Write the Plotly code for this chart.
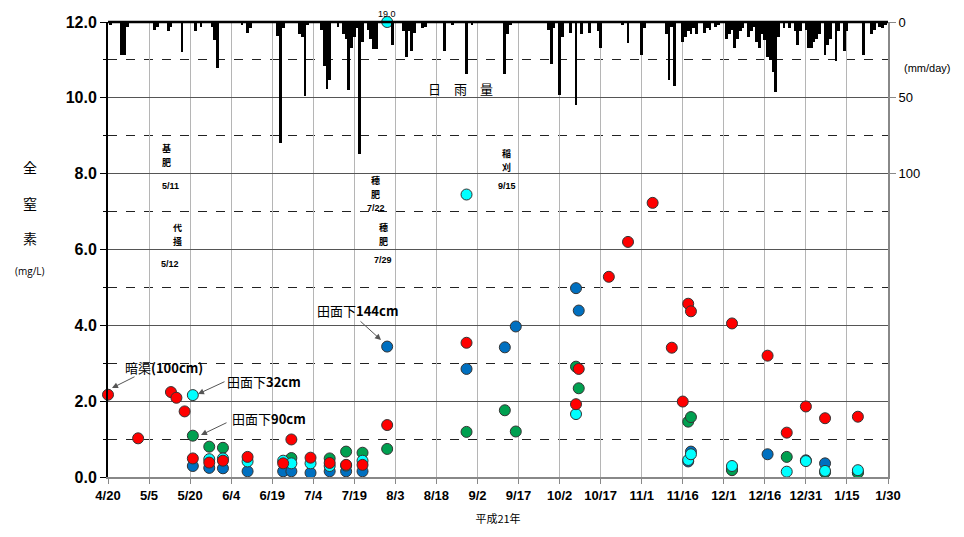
import datetime as dt
import plotly.graph_objects as go

# ---------------- data ----------------
start = dt.date(2009, 4, 20)
tick_dates = [start + dt.timedelta(days=15 * k) for k in range(20)]
tick_labels = [f"{d.month}/{d.day}" for d in tick_dates]

# 暗渠(100cm)
drain_dates = ["2009-04-20", "2009-05-01", "2009-05-13", "2009-05-15", "2009-05-18", "2009-05-21",
               "2009-05-27", "2009-06-01", "2009-06-10", "2009-06-23", "2009-06-26", "2009-07-03",
               "2009-07-10", "2009-07-16", "2009-07-22", "2009-07-31", "2009-08-29", "2009-10-08",
               "2009-10-09", "2009-10-20", "2009-10-27", "2009-11-05", "2009-11-12", "2009-11-16",
               "2009-11-18", "2009-11-19", "2009-12-04", "2009-12-17", "2009-12-24", "2009-12-31",
               "2010-01-07", "2010-01-19"]
drain_vals = [2.17, 1.02, 2.24, 2.09, 1.73, 0.49, 0.38, 0.43, 0.53, 0.36, 0.99, 0.51, 0.37, 0.32,
              0.32, 1.37, 3.54, 1.92, 2.85, 5.28, 6.20, 7.23, 3.41, 1.99, 4.57, 4.37, 4.05, 3.20,
              1.17, 1.86, 1.55, 1.59]

# 田面下32cm
d32_dates = ["2009-05-21", "2009-05-27", "2009-06-01", "2009-06-10", "2009-06-23", "2009-06-26",
             "2009-07-03", "2009-07-10", "2009-07-16", "2009-07-22", "2009-07-31", "2009-08-29",
             "2009-10-08", "2009-11-18", "2009-11-19", "2009-12-04", "2009-12-24", "2009-12-31",
             "2010-01-07", "2010-01-19"]
d32_vals = [2.16, 0.47, 0.49, 0.41, 0.43, 0.36, 0.36, 0.29, 0.30, 0.43, 19.0, 7.45, 1.66, 0.45,
            0.60, 0.29, 0.14, 0.42, 0.16, 0.18]

# 田面下90cm
d90_dates = ["2009-05-21", "2009-05-27", "2009-06-01", "2009-06-26", "2009-07-10", "2009-07-16",
             "2009-07-22", "2009-07-31", "2009-08-29", "2009-09-12", "2009-09-16", "2009-10-08",
             "2009-10-09", "2009-11-18", "2009-11-19", "2009-12-04", "2009-12-24", "2010-01-07",
             "2010-01-19"]
d90_vals = [1.09, 0.80, 0.77, 0.50, 0.49, 0.67, 0.64, 0.74, 1.19, 1.76, 1.20, 2.91, 2.34, 1.46,
            1.58, 0.18, 0.53, 0.12, 0.11]

# 田面下144cm
d144_dates = ["2009-05-21", "2009-05-27", "2009-06-01", "2009-06-10", "2009-06-23", "2009-06-26",
              "2009-07-03", "2009-07-10", "2009-07-16", "2009-07-22", "2009-07-31", "2009-08-29",
              "2009-09-12", "2009-09-16", "2009-10-08", "2009-10-09", "2009-11-18", "2009-11-19",
              "2009-12-04", "2009-12-17", "2009-12-31", "2010-01-07", "2010-01-19"]
d144_vals = [0.29, 0.24, 0.23, 0.15, 0.15, 0.15, 0.11, 0.15, 0.15, 0.15, 3.44, 2.85, 3.42, 3.97,
             4.98, 4.39, 0.41, 0.67, 0.20, 0.60, 0.44, 0.36, 0.12]

# 日雨量 (days since 2009-04-20, mm/day)
rain_day = [1, 5, 6, 7, 17, 18, 22, 23, 27, 32, 34, 38, 39, 40, 49, 51, 52, 62, 63, 64, 70, 71, 72,
            73, 78, 79, 80, 81, 84, 86, 87, 88, 89, 90, 91, 92, 93, 95, 96, 97, 98, 104, 108, 109,
            110, 111, 112, 115, 116, 123, 126, 131, 133, 145, 146, 147, 161, 162, 163, 165, 166,
            169, 171, 173, 176, 179, 180, 188, 190, 195, 196, 204, 205, 206, 207, 210, 211, 212,
            213, 214, 215, 218, 219, 220, 222, 223, 226, 227, 228, 229, 230, 231, 232, 234, 235,
            236, 237, 238, 239, 240, 241, 242, 243, 244, 245, 247, 249, 251, 252, 253, 255, 256,
            257, 258, 259, 260, 262, 263, 264, 266, 267, 269, 270, 276, 279, 280, 282, 283, 284]
rain_mm = [2, 22, 22, 3, 5, 3, 6, 3, 20, 6, 3, 3, 12, 30, 2, 7, 4, 9, 80, 4, 8, 10, 49,
           2, 5, 29, 44, 38, 3, 8, 11, 45, 17, 10, 4, 87, 13, 5, 11, 18, 18, 15, 6, 23,
           6, 19, 7, 4, 3, 19, 2, 34, 2, 34, 8, 2, 5, 28, 4, 48, 10,
           7, 55, 8, 7, 6, 17, 2, 14, 22, 4, 8, 38, 3, 42, 13, 10, 6,
           8, 4, 8, 7, 4, 5, 3, 2, 11, 8, 5, 17, 11, 6, 4, 10, 6,
           3, 13, 17, 8, 12, 23, 25, 33, 46, 10, 4, 4, 6, 15, 6, 5, 17,
           17, 13, 11, 8, 22, 15, 11, 26, 6, 19, 6, 22, 8, 5, 3, 4, 2]
rain_dates = [start + dt.timedelta(days=d) for d in rain_day]

Y_MAX = 12.0

# ---------------- figure ----------------
fig = go.Figure()

fig.add_trace(go.Bar(x=rain_dates, y=rain_mm, yaxis="y2", marker=dict(color="black", line_width=0),
                     width=86400000 * 1.0, showlegend=False, hoverinfo="x+y"))

series = [
    ("田面下144cm", d144_dates, d144_vals, "#0070C0"),
    ("田面下90cm", d90_dates, d90_vals, "#00A050"),
    ("田面下32cm", d32_dates, d32_vals, "#00FFFF"),
    ("暗渠(100cm)", drain_dates, drain_vals, "#FF0000"),
]
ann = []
for name, xs, vs, col in series:
    fig.add_trace(go.Scatter(
        x=xs, y=[min(v, Y_MAX) for v in vs], mode="markers", name=name,
        marker=dict(size=11, color=col, line=dict(color="#333333", width=1)),
        cliponaxis=False, showlegend=False,
    ))
    # values beyond the axis are pinned at the top and labelled
    for xv, v in zip(xs, vs):
        if v > Y_MAX:
            ann.append(dict(text=f"{v:.1f}", x=xv, y=Y_MAX, xref="x", yref="y", showarrow=False,
                            yanchor="bottom", yshift=2, borderpad=0,
                            font=dict(family="Arial", size=9, color="black")))

# page body has an 8px offset; margins chosen so the plot area sits at x 108-888, y 22-477
fig.update_layout(
    width=964, height=537,
    margin=dict(l=100, r=84, t=14, b=68),
    plot_bgcolor="white", paper_bgcolor="white",
    showlegend=False, bargap=0,
    xaxis=dict(
        type="date", range=[tick_dates[0], tick_dates[-1]], automargin=False,
        tickvals=tick_dates, ticktext=[f"<b>{t}</b>" for t in tick_labels],
        tickfont=dict(family="Arial", size=13, color="black"),
        showgrid=True, gridcolor="#b5b5b5", gridwidth=1,
        ticks="outside", ticklen=5, tickcolor="#888",
        showline=True, linecolor="#888", linewidth=2, mirror=False,
        title=dict(text="平成21年", font=dict(family="Noto Sans CJK JP", size=11, color="black"), standoff=14),
        zeroline=False,
    ),
    yaxis=dict(
        range=[0, Y_MAX], tickvals=[0, 2, 4, 6, 8, 10, 12], automargin=False,
        ticktext=["<b>0.0</b>", "<b>2.0</b>", "<b>4.0</b>", "<b>6.0</b>", "<b>8.0</b>", "<b>10.0</b>", "<b>12.0</b>"],
        tickfont=dict(family="Arial", size=16, color="black"),
        showgrid=True, gridcolor="#555555", gridwidth=1,
        minor=dict(dtick=1, showgrid=True, griddash="dash", gridcolor="#222222", gridwidth=1,
                   ticks="outside", ticklen=3, tickcolor="black"),
        ticks="outside", ticklen=6, tickcolor="black",
        showline=True, linecolor="black", linewidth=2,
        zeroline=False,
    ),
    yaxis2=dict(
        overlaying="y", side="right", range=[Y_MAX * 25, 0], automargin=False,
        tickvals=[0, 50, 100], ticktext=["0", "50", "100"],
        tickfont=dict(family="Arial", size=13, color="black"),
        showgrid=False, zeroline=False,
        ticks="outside", ticklen=6, tickcolor="#888",
        showline=True, linecolor="#888", linewidth=2,
    ),
)

# top frame line
fig.add_shape(type="line", xref="paper", yref="paper", x0=0, x1=1, y0=1, y1=1,
              line=dict(color="black", width=2.5))

def px(x):
    return (x - 108) / 780.0

def py(y):
    return (477 - y) / 455.0

jp = "Noto Sans CJK JP"

def txt(t, x, y, size, family, xanchor="center"):
    ann.append(dict(text=t, x=px(x), y=py(y), xref="paper", yref="paper", showarrow=False,
                    xanchor=xanchor, yanchor="middle", borderpad=0,
                    font=dict(family=family, size=size, color="black")))

# Y axis title
for ch, yy in [("全", 167), ("窒", 203), ("素", 238)]:
    txt(ch, 30, yy, 14, jp)
txt("(mg/L)", 30, 271, 10, "Open Sans")
txt("(mm/day)", 927, 68, 11, "Arial")
txt("日　雨　量", 460, 88, 13, jp)

# vertical event labels (one character per annotation) and dates
chars = [("基", 166, 148), ("肥", 166, 162), ("代", 177, 228), ("掻", 177, 242),
         ("穂", 375, 180), ("肥", 375, 194), ("穂", 383, 228), ("肥", 383, 242),
         ("稲", 507, 153), ("刈", 507, 167)]
for t, x, y in chars:
    txt(f"<b>{t}</b>", x, y, 9, jp)
dates_txt = [("5/11", 170, 186), ("5/12", 170, 264), ("7/22", 376, 208), ("7/29", 383, 260),
             ("9/15", 507, 186)]
for t, x, y in dates_txt:
    txt(f"<b>{t}</b>", x, y, 9, "Arial")

labels = [("暗渠<b>(100cm)</b>", 124, 367), ("田面下<b>32cm</b>", 226, 381),
          ("田面下<b>90cm</b>", 231, 418), ("田面下<b>144cm</b>", 316, 310)]
for t, x, y in labels:
    txt(t, x, y, 13, jp, xanchor="left")

arrows = [(112, 388, 136, 376), (198, 394, 226, 381), (201, 435, 228, 422), (381, 340, 359, 320)]
for hx, hy, tx, ty in arrows:
    ann.append(dict(text="", x=px(hx), y=py(hy), xref="paper", yref="paper", showarrow=True,
                    ax=tx - hx, ay=ty - hy, arrowhead=2, arrowsize=1.2, arrowwidth=1, arrowcolor="#555"))

fig.update_layout(annotations=ann)
fig.write_html("out.html")
